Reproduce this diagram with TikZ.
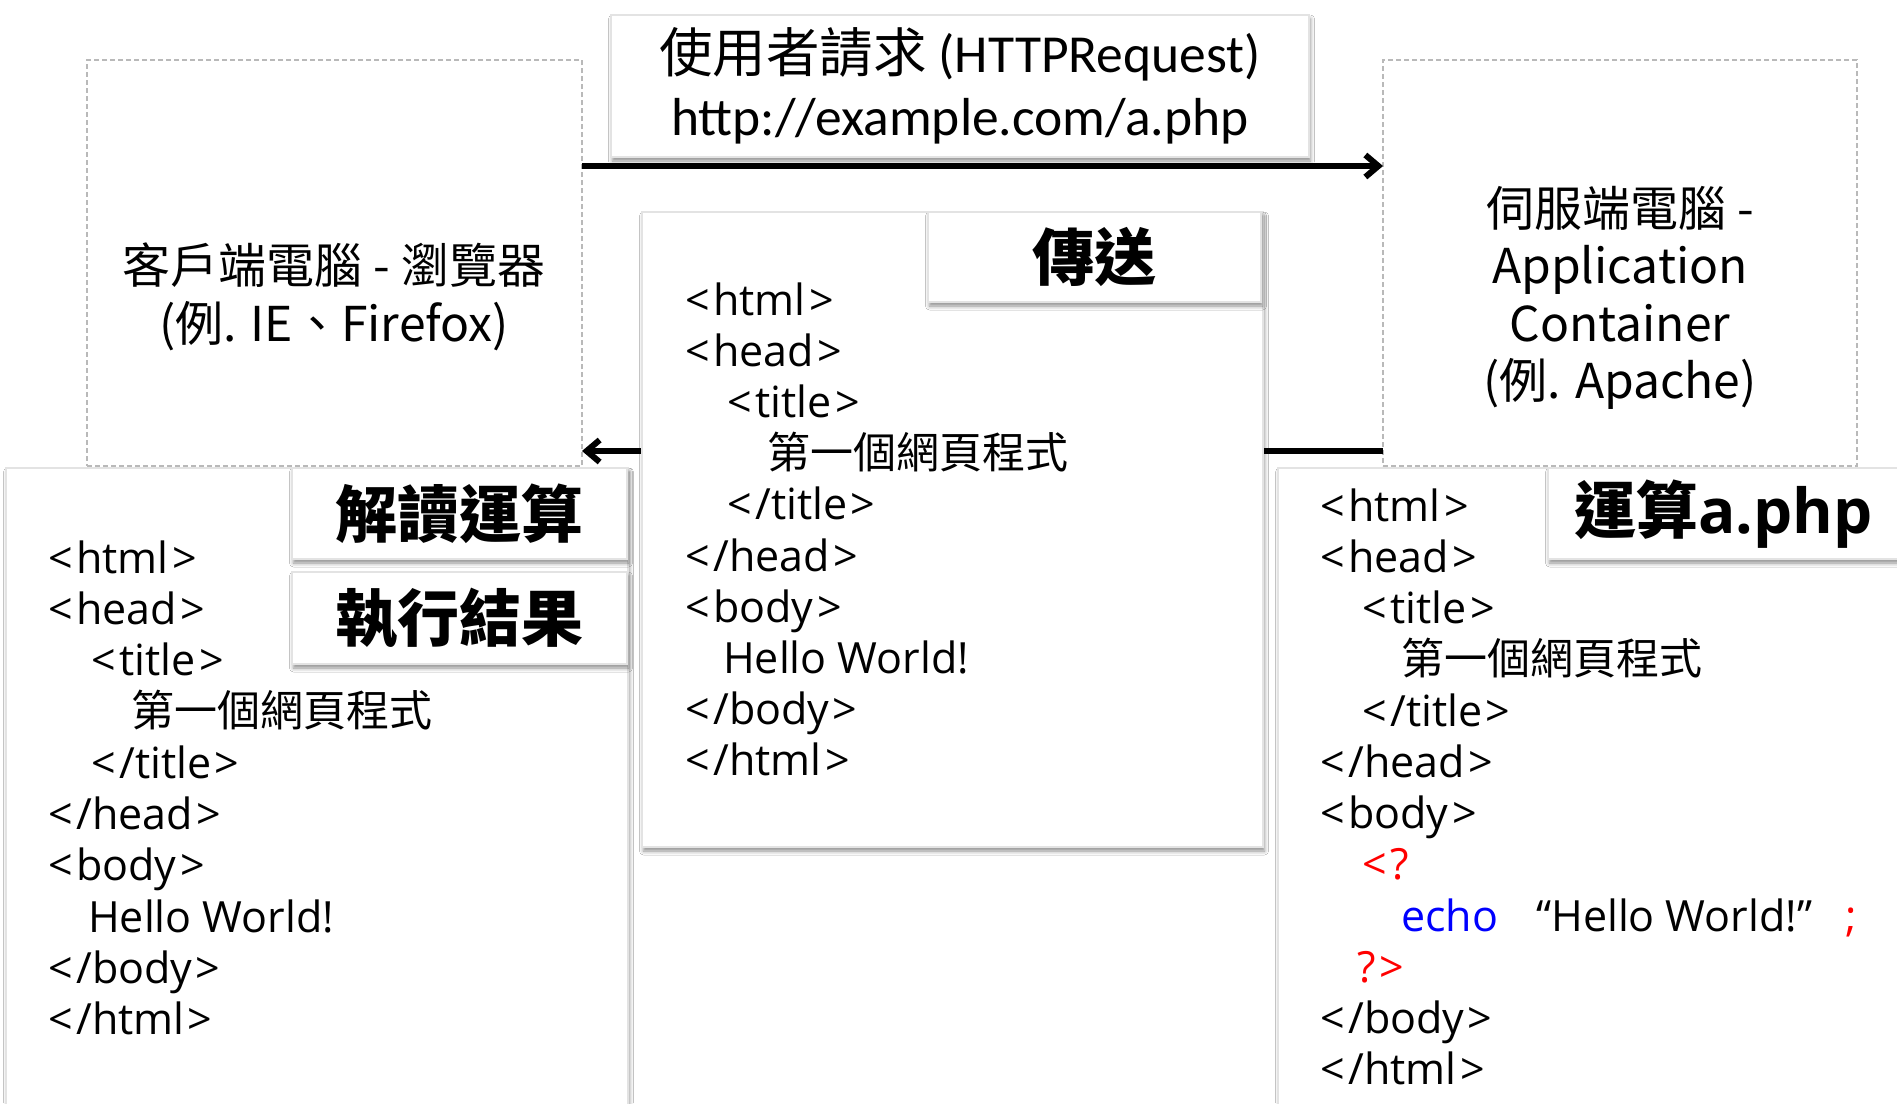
\documentclass[tikz,border=0pt]{standalone}
\usepackage{fontspec}
\setmainfont{Open Sans}
\newfontfamily\cjk{Noto Sans CJK TC}
\newfontfamily\calib{Carlito}
\usetikzlibrary{arrows.meta,shadows,shadows.blur}
\definecolor{phpred}{RGB}{255,0,0}
\definecolor{phpblue}{RGB}{0,0,255}
\newcommand\ltk{<\kern3.5pt}
\newcommand\gtk{\kern3.5pt>}
\tikzset{
  dashbox/.style={draw=gray!55, dash pattern=on 5pt off 3pt, line width=1.6pt, rectangle, inner sep=0pt, outer sep=0pt},
  card/.style={draw=gray!22, line width=1.2pt, fill=white, rectangle, inner sep=0pt, outer sep=0pt,
    blur shadow={shadow xshift=1.5pt, shadow yshift=-4pt, shadow blur radius=4pt, shadow opacity=45}},
  code/.style={anchor=base west, inner sep=0pt, font=\fontsize{43}{51}\selectfont},
  label/.style={anchor=base, inner sep=0pt, font=\cjk\fontsize{48}{57}\selectfont},
  head/.style={inner sep=0pt, font=\cjk\bfseries\fontsize{62}{70}\selectfont},
  flow/.style={line width=6pt, -{Straight Barb[length=13pt,width=22pt,line width=6pt]}}
}
\begin{document}
\begin{tikzpicture}[x=1pt,y=-1pt]
\useasboundingbox (0,0) rectangle (1897,1103);
\clip (0,0) rectangle (1897,1103);
\fill[white] (0,0) rectangle (1897,1103);

% dashed machine boxes
\node[dashbox, anchor=north west, minimum width=495pt, minimum height=406pt] (client) at (87,60) {};
\node[dashbox, anchor=north west, minimum width=474pt, minimum height=406pt] (server) at (1383,60) {};

\node[label] (cl1) at (334,283) {客戶端電腦 - 瀏覽器};
\node[label] (cl2) at (334,341) {(例. IE、Firefox)};
\node[label] (sl1) at (1620,226) {伺服端電腦 -};
\node[label] (sl2) at (1620,283) {Application};
\node[label] (sl3) at (1620,341) {Container};
\node[label] (sl4) at (1620,398) {(例. Apache)};

% arrows
\coordinate (reqy) at (0,166);
\coordinate (resy) at (0,451);
\draw[flow] (client.east |- reqy) -- (server.west |- reqy);
\draw[flow] (server.west |- resy) -- (client.east |- resy);

% request box
\node[card, minimum width=698pt, minimum height=142pt, align=center,
  font=\calib\fontsize{53.5}{63}\selectfont] (req) at (960,86)
  {{\cjk 使用者請求} (HTTPRequest)\\http://example.com/a.php};

% center box
\node[card, anchor=north west, minimum width=621pt, minimum height=635pt] (mid) at (642,212) {};
\node[card, anchor=north west, minimum width=333pt, minimum height=90pt] (send) at (928,212) {};
\node[head] (sendt) at (send.center) {傳送};
\foreach \dx/\t [count=\i] in {0/{\ltk html\gtk},0/{\ltk head\gtk},42/{\ltk title\gtk},82/{\cjk 第一個網頁程式},42/{\ltk/title\gtk},0/{\ltk/head\gtk},0/{\ltk body\gtk},38/{Hello World!},0/{\ltk/body\gtk},0/{\ltk/html\gtk}}
  \node[code] (cc\i) at (685+\dx, 315+51.2*\i-51.2) {\t};

% left code box
\node[card, anchor=north west, minimum width=622pt, minimum height=700pt] (res) at (6,468) {};
\node[card, anchor=north west, minimum width=335pt, minimum height=91pt] (parse) at (292,468) {};
\node[head] (parset) at (parse.center) {解讀運算};
\node[card, anchor=north west, minimum width=335pt, minimum height=92pt] (out) at (292,572) {};
\node[head] (outt) at (out.center) {執行結果};
\foreach \dx/\t [count=\i] in {0/{\ltk html\gtk},0/{\ltk head\gtk},43/{\ltk title\gtk},83/{\cjk 第一個網頁程式},43/{\ltk/title\gtk},0/{\ltk/head\gtk},0/{\ltk body\gtk},40/{Hello World!},0/{\ltk/body\gtk},0/{\ltk/html\gtk}}
  \node[code] (cl\i) at (48+\dx, 573+51.3*\i-51.3) {\t};

% right code box
\node[card, anchor=north west, minimum width=680pt, minimum height=700pt] (php) at (1278,468) {};
\node[card, anchor=north west, minimum width=380pt, minimum height=91pt] (run) at (1548,468) {};
\node[head, anchor=west] (runt) at (1574,514) {運算{\bfseries\rmfamily a.php}};
\foreach \dx/\k/\t in {0/0/{\ltk html\gtk},0/1/{\ltk head\gtk},42/2/{\ltk title\gtk},81/3/{\cjk 第一個網頁程式},42/4/{\ltk/title\gtk},0/5/{\ltk/head\gtk},0/6/{\ltk body\gtk},42/7/{\color{phpred}\ltk?},37/9/{\color{phpred}?\gtk},0/10/{\ltk/body\gtk},0/11/{\ltk/html\gtk}}
  \node[code] (cr\k) at (1320+\dx, 521+51.25*\k) {\t};
\node[code, text=phpblue] (echo) at (1401, 521+51.25*8) {echo};
\node[code] (hello) at (1536, 521+51.25*8) {“Hello World!”};
\node[code, text=phpred] (semi) at (1845, 521+51.25*8) {;};
\end{tikzpicture}
\end{document}
